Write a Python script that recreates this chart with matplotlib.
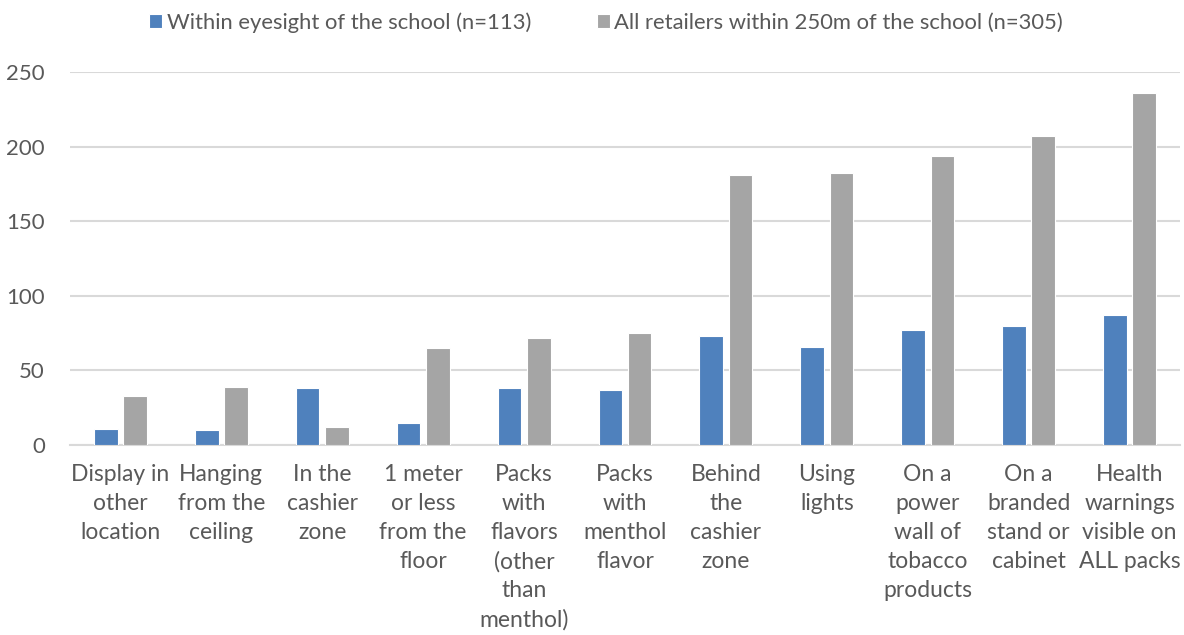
import matplotlib
matplotlib.use("Agg")
import matplotlib.pyplot as plt
import numpy as np

categories = [
    "Display in\nother\nlocation",
    "Hanging\nfrom the\nceiling",
    "In the\ncashier\nzone",
    "1 meter\nor less\nfrom the\nfloor",
    "Packs\nwith\nflavors\n(other\nthan\nmenthol)",
    "Packs\nwith\nmenthol\nflavor",
    "Behind\nthe\ncashier\nzone",
    "Using\nlights",
    "On a\npower\nwall of\ntobacco\nproducts",
    "On a\nbranded\nstand or\ncabinet",
    "Health\nwarnings\nvisible on\nALL packs",
]
eyesight = [11, 10, 38, 15, 38, 37, 73, 66, 77, 80, 87]
within_250m = [33, 39, 12, 65, 72, 75, 181, 182, 194, 207, 236]
series_labels = [
    "Within eyesight of the school (n=113)",
    "All retailers within 250m of the school (n=305)",
]
yticks = [0, 50, 100, 150, 200, 250]

BLUE = "#4f81bd"
GRAY = "#a5a5a5"
TEXT = "#595959"
GRID = "#d9d9d9"

plt.rcParams["font.family"] = ["Lato", "DejaVu Sans"]

fig = plt.figure(figsize=(11.84, 6.35), dpi=100)
ax = fig.add_axes([70 / 1184, 1 - 445 / 635, 1110 / 1184, 373 / 635])

x = np.arange(len(categories))
w = 0.235
off = 0.145
ax.bar(x - off, eyesight, width=w, color=BLUE, edgecolor="white", linewidth=0.8,
       label=series_labels[0], zorder=3)
ax.bar(x + off, within_250m, width=w, color=GRAY, edgecolor="white", linewidth=0.8,
       label=series_labels[1], zorder=3)

ax.set_xlim(-0.5, len(categories) - 0.5)
ax.set_ylim(0, 250)
ax.set_yticks(yticks)
ax.yaxis.grid(True, color=GRID, linewidth=1.5, zorder=0)
ax.set_axisbelow(True)
for side in ("top", "right", "left"):
    ax.spines[side].set_visible(False)
ax.spines["bottom"].set_color(GRID)
ax.spines["bottom"].set_linewidth(1.5)

ax.set_xticks(x)
ax.set_xticklabels(categories, linespacing=1.46)
ax.tick_params(axis="x", length=0, pad=14, labelsize=16.5, labelcolor=TEXT)
ax.tick_params(axis="y", length=0, pad=18, labelsize=16, labelcolor=TEXT)

fig.legend(loc="upper center", bbox_to_anchor=(0.512, 1.012), ncol=2, frameon=False,
           fontsize=15.8, labelcolor=TEXT, handlelength=0.6, handleheight=0.6,
           handletextpad=0.2, columnspacing=3.0)

fig.savefig("out.png", dpi=100)
